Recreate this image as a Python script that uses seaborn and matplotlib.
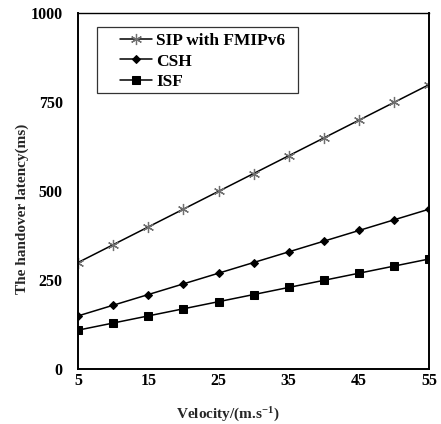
import matplotlib
matplotlib.use("Agg")
import matplotlib.pyplot as plt
from matplotlib.patches import Rectangle
import seaborn as sns
import pandas as pd

# Handover latency vs. mobile velocity for three schemes
velocity = [5, 10, 15, 20, 25, 30, 35, 40, 45, 50, 55]
sip_fmipv6 = [300, 350, 400, 450, 500, 550, 600, 650, 700, 750, 800]
csh = [150, 180, 210, 240, 270, 300, 330, 360, 390, 420, 450]
isf = [110, 130, 150, 170, 190, 210, 230, 250, 270, 290, 310]

series_names = ["SIP with FMIPv6", "CSH", "ISF"]
x_ticks = [5, 15, 25, 35, 45, 55]
y_ticks = [0, 250, 500, 750, 1000]

sns.set_theme(style="white")
plt.rcParams["font.family"] = ["Liberation Serif", "DejaVu Serif"]
plt.rcParams["font.weight"] = "bold"
plt.rcParams["mathtext.fontset"] = "custom"
plt.rcParams["mathtext.rm"] = "Liberation Serif:bold"
plt.rcParams["mathtext.default"] = "rm"

df = pd.DataFrame({
    "velocity": velocity * 3,
    "latency": sip_fmipv6 + csh + isf,
    "scheme": [series_names[0]] * len(velocity)
              + [series_names[1]] * len(velocity)
              + [series_names[2]] * len(velocity),
})

fig = plt.figure(figsize=(4.41, 4.24), dpi=100)
ax = fig.add_axes([0.177, 0.129, 0.7965, 0.8396])

styles = {
    "SIP with FMIPv6": dict(marker=(6, 2, 0), markersize=8, markeredgecolor="#707070",
                            markeredgewidth=0.9),
    "CSH": dict(marker="D", markersize=4.2, markeredgecolor="black", markerfacecolor="black"),
    "ISF": dict(marker="s", markersize=5.3, markeredgecolor="black", markerfacecolor="black"),
}

for name in series_names:
    sub = df[df["scheme"] == name]
    sns.lineplot(data=sub, x="velocity", y="latency", ax=ax, color="black",
                 linewidth=1.1, label=name, **styles[name])

ax.set_xlim(5, 55)
ax.set_ylim(0, 1000)
ax.set_xticks(x_ticks)
ax.set_yticks(y_ticks)
ax.tick_params(axis="both", direction="in", length=4, width=1.2, labelsize=11.5,
               colors="black")
ax.tick_params(axis="x", pad=3)
ax.tick_params(axis="y", pad=11)
for lbl in ax.get_xticklabels() + ax.get_yticklabels():
    lbl.set_fontweight("bold")

for side in ["left", "right", "bottom", "top"]:
    ax.spines[side].set_visible(True)
    ax.spines[side].set_color("black")
    ax.spines[side].set_linewidth(1.4)
ax.spines["top"].set_linewidth(1.0)

ax.set_xlabel(r"Velocity/(m.s$^{-1}$)", fontsize=11, fontweight="bold")
ax.xaxis.set_label_coords(0.425, -0.103)
ax.set_ylabel("The handover latency(ms)", fontsize=11, fontweight="bold")
ax.yaxis.set_label_coords(-0.141, 0.45)

# Legend entries without their own frame; a wider box is drawn around them
leg = ax.legend(loc="upper left", bbox_to_anchor=(0.118, 0.945), fontsize=12.5,
                frameon=False, handlelength=1.9, handletextpad=0.2,
                labelspacing=0.25, borderpad=0.0, borderaxespad=0)
for t in leg.get_texts():
    t.set_fontweight("bold")
    t.set_color("black")
ax.add_patch(Rectangle((0.053, 0.776), 0.574, 0.185, transform=ax.transAxes,
                       fill=False, edgecolor="#333333", linewidth=0.9, zorder=5))

fig.savefig("out.png", dpi=100)
